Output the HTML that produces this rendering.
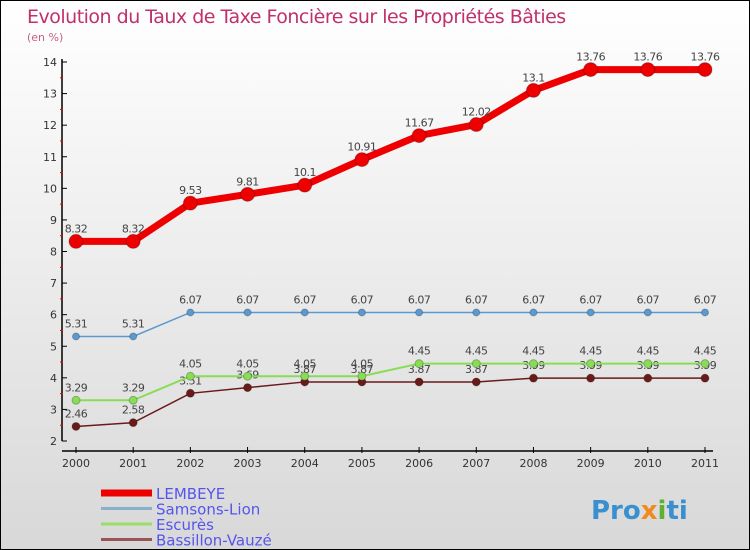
<!DOCTYPE html>
<html><head><meta charset="utf-8"><style>
body{margin:0}
#c{width:750px;height:550px;position:relative;box-sizing:border-box;border:1px solid #000;background:linear-gradient(#fff,#d8d8d8);font-family:"DejaVu Sans","Liberation Sans",sans-serif;overflow:hidden}
text{font-family:"DejaVu Sans","Liberation Sans",sans-serif}
</style></head><body>
<div id="c">
<svg id="s" width="750" height="550">
<text x="26" y="22" font-size="19" fill="#c0306a" letter-spacing="-0.5">Evolution du Taux de Taxe Foncière sur les Propriétés Bâties</text>
<text x="26" y="40" font-size="11" fill="#c86088">(en %)</text>
<text x="590" y="518" font-size="26" font-weight="bold" fill="#3a8fd0">Pro<tspan fill="#f08a20">x</tspan><tspan fill="#60b030">i</tspan>ti</text>
</svg>
</div>
<script>
const years=["2000","2001","2002","2003","2004","2005","2006","2007","2008","2009","2010","2011"];
const yTicks=[2,3,4,5,6,7,8,9,10,11,12,13,14];
const lembeye=[8.32,8.32,9.53,9.81,10.1,10.91,11.67,12.02,13.1,13.76,13.76,13.76];
const samsons=[5.31,5.31,6.07,6.07,6.07,6.07,6.07,6.07,6.07,6.07,6.07,6.07];
const escures=[3.29,3.29,4.05,4.05,4.05,4.05,4.45,4.45,4.45,4.45,4.45,4.45];
const bassillon=[2.46,2.58,3.51,3.69,3.87,3.87,3.87,3.87,3.99,3.99,3.99,3.99];
const NS="http://www.w3.org/2000/svg",s=document.getElementById('s');
const X=i=>75+i*(704-75)/(years.length-1);
const Y=v=>440-(v-2)*(440-61)/12;
function mk(t,a,p){const e=document.createElementNS(NS,t);for(const k in a)e.setAttribute(k,a[k]);(p||s).appendChild(e);return e;}
// axes
let ax=mk('line',{x1:61,y1:58,x2:61,y2:440,stroke:'#000','stroke-width':1.5});

let bx=mk('line',{x1:61,y1:450,x2:712,y2:450,stroke:'#000','stroke-width':1.5});

yTicks.forEach(v=>{mk('line',{x1:61,y1:Y(v),x2:66,y2:Y(v),stroke:'#000'});
 if(v<14)mk('line',{x1:59,y1:Y(v+0.5),x2:62,y2:Y(v+0.5),stroke:'#e00'});
 const t=mk('text',{x:56,y:Y(v)+4,'font-size':11,fill:'#333','text-anchor':'end'});t.textContent=v;
 });
years.forEach((y,i)=>{mk('line',{x1:X(i),y1:446,x2:X(i),y2:452,stroke:'#000'});
 const t=mk('text',{x:X(i),y:466,'font-size':11,fill:'#333','text-anchor':'middle'});t.textContent=y;
 });
function series(d,col,lw,r,name,lab){
 const g=mk('g',{});
 mk('polyline',{points:d.map((v,i)=>X(i)+','+Y(v)).join(' '),fill:'none',stroke:col,'stroke-width':lw},g);
 d.forEach((v,i)=>{const c=mk('circle',{cx:X(i),cy:Y(v),r:r,fill:col,stroke:'rgba(0,0,0,0.25)'},g);
  
  const t=mk('text',{x:X(i),y:Y(v)-9,'font-size':11,fill:'#444','text-anchor':'middle','letter-spacing':'-0.5'},g);t.textContent=v;});
}
series(bassillon,'#6b1a1a',1.5,4,'bassillon');
series(escures,'#88dd55',2,4,'escures');
series(samsons,'#5b9ad0',1.5,3.5,'samsons');
series(lembeye,'#ee0000',7,7,'lembeye');
const leg=[['LEMBEYE','#ee0000',7],['Samsons-Lion','#88b0cc',3],['Escurès','#99dd66',3],['Bassillon-Vauzé','#995555',3]];
leg.forEach((l,i)=>{const y=492+i*15.5;
 mk('line',{x1:100,y1:y,x2:151,y2:y,stroke:l[1],'stroke-width':l[2]});
 const t=mk('text',{x:155,y:y+6,'font-size':15,fill:'#5555ee'});t.textContent=l[0];
 });
</script>
</body></html>
